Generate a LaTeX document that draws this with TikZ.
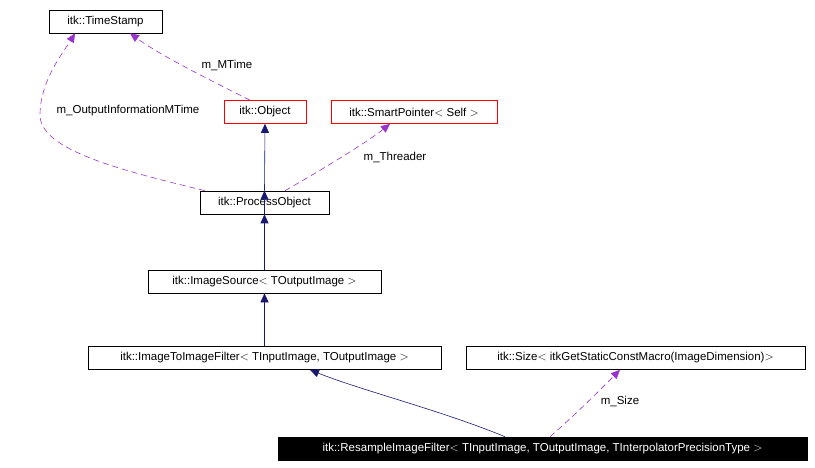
\documentclass[tikz,border=0pt]{standalone}
\usepackage{fontspec}
\setmainfont{Liberation Sans}
\usetikzlibrary{arrows.meta}
\begin{document}
\begin{tikzpicture}[x=1pt,y=-1pt,
  box/.style={draw=black,fill=white,inner sep=0pt,minimum height=23pt,font=\fontsize{11.5}{13}\selectfont,line width=0.6pt},
  red/.style={box,draw=red},
  inh/.style={draw={rgb,255:red,25;green,25;blue,112},line width=0.6pt,-{Triangle[length=9pt,width=8pt,fill={rgb,255:red,25;green,25;blue,112}]}},
  use/.style={draw={rgb,255:red,154;green,50;blue,205},dash pattern=on 6pt off 4pt,line width=0.6pt,-{Triangle[open,length=9pt,width=8pt,fill={rgb,255:red,154;green,50;blue,205}]}},
  lab/.style={font=\fontsize{11.5}{13}\selectfont,inner sep=1pt}]
\useasboundingbox (0,0) rectangle (815,468);
\node[box,minimum width=113pt] (ts) at (105.5,21.5) {itk::TimeStamp};
\node[red,minimum width=82pt] (obj) at (265,112) {itk::Object};
\node[red,minimum width=166pt] (sp) at (414,112) {itk::SmartPointer$<$ Self $>$};
\node[box,minimum width=129pt] (po) at (264.5,202.5) {itk::ProcessObject};
\node[box,minimum width=233pt] (is) at (264.5,281.5) {itk::ImageSource$<$ TOutputImage $>$};
\node[box,minimum width=353pt] (iti) at (264.5,358) {itk::ImageToImageFilter$<$ TInputImage, TOutputImage $>$};
\node[box,minimum width=339pt] (sz) at (635.5,358) {itk::Size$<$ itkGetStaticConstMacro(ImageDimension)$>$};
\node[box,fill=black,text=white,minimum width=529pt] (rs) at (542.5,448.5) {itk::ResampleImageFilter$<$ TInputImage, TOutputImage, TInterpolatorPrecisionType $>$};
\draw[inh] (po.north) -- (obj.south);
\draw[inh] (is.north) -- (po.north);
\draw[inh] (is.north) -- (po.south);
\draw[inh] (iti.north) -- (is.south);
\draw[inh] (rs.north -| 505,0) .. controls (440,410) and (360,390) .. (iti.south -| 310,0);
\draw[use] (obj.north -| 250,0) .. controls (200,75) and (160,55) .. (ts.south -| 130,0);
\draw[use] (po.north -| 205,0) .. controls (120,170) and (40,150) .. (40,115) .. controls (40,80) and (65,50) .. (ts.south -| 75,0);
\draw[use] (po.north -| 285,0) .. controls (330,165) and (370,140) .. (sp.south -| 390,0);
\draw[use] (rs.north -| 550,0) .. controls (575,415) and (600,390) .. (sz.south -| 620,0);
\node[lab] (l1) at (227,65) {m\_MTime};
\node[lab] (l2) at (128,111) {m\_OutputInformationMTime};
\node[lab] (l3) at (395,157) {m\_Threader};
\node[lab] (l4) at (620,401) {m\_Size};
\end{tikzpicture}
\end{document}
